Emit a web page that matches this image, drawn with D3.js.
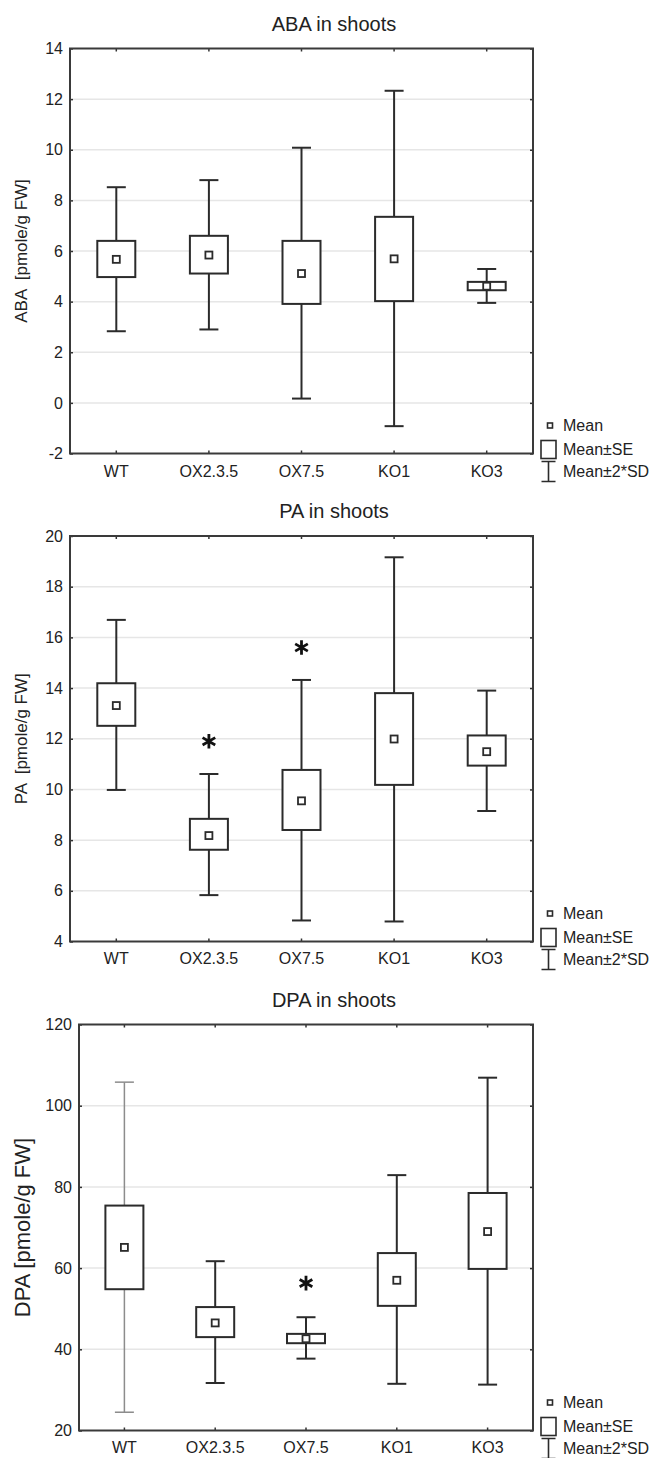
<!DOCTYPE html>
<html>
<head>
<meta charset="utf-8">
<script src="https://cdn.jsdelivr.net/npm/d3@7"></script>
<style>
  body { margin: 0; background: #fff; }
  text { font-family: "Liberation Sans", Arial, sans-serif; fill: #222; white-space: pre; }
</style>
</head>
<body>
<div id="chart"></div>
<script>
// groups on the x axis
const categories = ['WT', 'OX2.3.5', 'OX7.5', 'KO1', 'KO3'];

// ABA in shoots
const abaMean = [5.67, 5.84, 5.11, 5.69, 4.61];
const abaSeLo = [4.97, 5.11, 3.91, 4.02, 4.45];
const abaSeHi = [6.40, 6.60, 6.40, 7.35, 4.78];
const abaSdLo = [2.83, 2.90, 0.17, -0.92, 3.95];
const abaSdHi = [8.52, 8.80, 10.08, 12.33, 5.29];
const abaTicks = [-2, 0, 2, 4, 6, 8, 10, 12, 14];
const abaStars = [];

// PA in shoots
const paMean = [13.31, 8.18, 9.55, 11.99, 11.49];
const paSeLo = [12.51, 7.62, 8.40, 10.18, 10.94];
const paSeHi = [14.19, 8.84, 10.77, 13.80, 12.13];
const paSdLo = [9.98, 5.83, 4.83, 4.79, 9.15];
const paSdHi = [16.69, 10.61, 14.32, 19.16, 13.90];
const paTicks = [4, 6, 8, 10, 12, 14, 16, 18, 20];
const paStars = [{ cat: 'OX2.3.5', value: 11.9 }, { cat: 'OX7.5', value: 15.6 }];

// DPA in shoots
const dpaMean = [65.1, 46.5, 42.6, 57.0, 69.0];
const dpaSeLo = [54.8, 43.0, 41.5, 50.7, 59.8];
const dpaSeHi = [75.4, 50.4, 43.8, 63.7, 78.5];
const dpaSdLo = [24.5, 31.7, 37.7, 31.5, 31.3];
const dpaSdHi = [105.8, 61.7, 47.9, 82.9, 106.9];
const dpaTicks = [20, 40, 60, 80, 100, 120];
const dpaStars = [{ cat: 'OX7.5', value: 56.3 }];

const legendLabels = ['Mean', 'Mean\u00b1SE', 'Mean\u00b12*SD'];

const svg = d3.select('#chart')
              .append('svg')
              .attr('width', 650)
              .attr('height', 1458);

const lineColor = '#2b2b2b';

function drawPanel(p) {
   const g = svg.append('g');
   const rows = categories.map((c, i) => ({
      cat: c, mean: p.mean[i], seLo: p.seLo[i], seHi: p.seHi[i], sdLo: p.sdLo[i], sdHi: p.sdHi[i]
   }));

   const xScale = d3.scaleBand()
                    .domain(categories)
                    .range([p.left, p.right])
                    .padding(0);
   const cx = d => xScale(d) + xScale.bandwidth() / 2;

   const yScale = d3.scaleLinear()
                    .domain([p.ticks[0], p.ticks[p.ticks.length - 1]])
                    .range([p.bottom, p.top]);

   // grid
   g.selectAll('.grid')
    .data(p.ticks.slice(1, -1))
    .join('line')
    .attr('x1', p.left).attr('x2', p.right)
    .attr('y1', d => yScale(d)).attr('y2', d => yScale(d))
    .attr('stroke', '#e6e6e6').attr('stroke-width', 1.5);

   // axes
   const left = g.append('g').attr('transform', `translate(${p.left},0)`)
                 .call(d3.axisLeft(yScale).tickValues(p.ticks).tickSize(-3).tickPadding(7)
                         .tickFormat(d => String(d)));
   const right = g.append('g').attr('transform', `translate(${p.right},0)`)
                  .call(d3.axisRight(yScale).tickValues(p.ticks).tickSize(-3).tickFormat(''));
   const bottom = g.append('g').attr('transform', `translate(0,${p.bottom})`)
                   .call(d3.axisBottom(xScale).tickSize(-3).tickPadding(p.xPad));
   const top = g.append('g').attr('transform', `translate(0,${p.top})`)
                .call(d3.axisTop(xScale).tickSize(-3).tickFormat(''));
   [left, right, bottom, top].forEach(a => {
      a.select('.domain').remove();
      a.selectAll('.tick line').attr('stroke', '#333').attr('stroke-width', 1.5);
      a.selectAll('text').attr('font-size', 16).attr('fill', '#222')
       .attr('font-family', '"Liberation Sans", Arial, sans-serif');
   });

   // frame
   g.append('rect')
    .attr('x', p.left).attr('y', p.top)
    .attr('width', p.right - p.left).attr('height', p.bottom - p.top)
    .attr('fill', 'none').attr('stroke', '#3a3a3a').attr('stroke-width', 2);

   // whiskers
   const capW = 19, boxW = 38, meanW = 7;
   const wColor = (d, i) => (p.grayFirst && i === 0) ? '#8c8c8c' : lineColor;
   const wWidth = (d, i) => (p.grayFirst && i === 0) ? 1.5 : 2;
   g.selectAll('.whisker').data(rows).join('line')
    .attr('x1', d => cx(d.cat)).attr('x2', d => cx(d.cat))
    .attr('y1', d => yScale(d.sdLo)).attr('y2', d => yScale(d.sdHi))
    .attr('stroke', wColor).attr('stroke-width', wWidth);
   ['sdLo', 'sdHi'].forEach(k => {
      g.selectAll('.cap-' + k).data(rows).join('line')
       .attr('x1', d => cx(d.cat) - capW / 2).attr('x2', d => cx(d.cat) + capW / 2)
       .attr('y1', d => yScale(d[k])).attr('y2', d => yScale(d[k]))
       .attr('stroke', wColor).attr('stroke-width', wWidth);
   });

   // SE boxes
   g.selectAll('.box').data(rows).join('rect')
    .attr('x', d => cx(d.cat) - boxW / 2).attr('width', boxW)
    .attr('y', d => yScale(d.seHi)).attr('height', d => yScale(d.seLo) - yScale(d.seHi))
    .attr('fill', '#fff').attr('stroke', lineColor).attr('stroke-width', 2);

   // means
   g.selectAll('.mean').data(rows).join('rect')
    .attr('x', d => cx(d.cat) - meanW / 2).attr('width', meanW)
    .attr('y', d => yScale(d.mean) - meanW / 2).attr('height', meanW)
    .attr('fill', '#fff').attr('stroke', lineColor).attr('stroke-width', 1.8);

   // significance stars
   g.selectAll('.star').data(p.stars).join('path')
    .attr('transform', d => `translate(${cx(d.cat)},${yScale(d.value)})`)
    .attr('d', d3.symbol(d3.symbolAsterisk, 150)())
    .attr('fill', 'none').attr('stroke', '#111').attr('stroke-width', 2.8);

   // title
   g.append('text')
    .attr('x', 334).attr('y', p.top - 25)
    .attr('text-anchor', 'middle').attr('dominant-baseline', 'central')
    .attr('font-size', 20)
    .text(p.title);

   // y label
   g.append('text')
    .attr('transform', `translate(${p.yLabelX},${(p.top + p.bottom) / 2}) rotate(-90)`)
    .attr('text-anchor', 'middle').attr('dominant-baseline', 'central')
    .attr('font-size', p.yLabelSize)
    .text(p.yLabel);

   // legend
   const lx = p.right + 12, tx = p.right + 30;
   const ly = [p.bottom - 28, p.bottom - 4, p.bottom + 18];
   g.append('rect').attr('x', lx + 2.5).attr('y', ly[0] - 2.5).attr('width', 5).attr('height', 5)
    .attr('fill', '#fff').attr('stroke', lineColor).attr('stroke-width', 1.6);
   g.append('rect').attr('x', lx - 4).attr('y', ly[1] - 9).attr('width', 15).attr('height', 18)
    .attr('fill', '#fff').attr('stroke', lineColor).attr('stroke-width', 1.6);
   const ib = lx + 3.5;
   g.append('path')
    .attr('d', `M${ib - 7},${ly[2] - 10}H${ib + 7}M${ib},${ly[2] - 10}V${ly[2] + 10}M${ib - 7},${ly[2] + 10}H${ib + 7}`)
    .attr('fill', 'none').attr('stroke', lineColor).attr('stroke-width', 1.6);
   g.selectAll('.leg').data(legendLabels).join('text')
    .attr('x', tx).attr('y', (d, i) => ly[i])
    .attr('dominant-baseline', 'central')
    .attr('font-size', 16)
    .text(d => d);
}

drawPanel({
   title: 'ABA in shoots', yLabel: 'ABA  [pmole/g FW]', yLabelX: 21, yLabelSize: 17,
   left: 70, right: 533, top: 48.5, bottom: 453.5, xPad: 12,
   ticks: abaTicks, mean: abaMean, seLo: abaSeLo, seHi: abaSeHi, sdLo: abaSdLo, sdHi: abaSdHi,
   stars: abaStars
});

drawPanel({
   title: 'PA in shoots', yLabel: 'PA  [pmole/g FW]', yLabelX: 21, yLabelSize: 17,
   left: 70, right: 533, top: 536, bottom: 941.5, xPad: 11,
   ticks: paTicks, mean: paMean, seLo: paSeLo, seHi: paSeHi, sdLo: paSdLo, sdHi: paSdHi,
   stars: paStars
});

drawPanel({
   title: 'DPA in shoots', yLabel: 'DPA [pmole/g FW]', yLabelX: 22, yLabelSize: 22,
   left: 79, right: 533, top: 1024.5, bottom: 1430.5, xPad: 11, grayFirst: true,
   ticks: dpaTicks, mean: dpaMean, seLo: dpaSeLo, seHi: dpaSeHi, sdLo: dpaSdLo, sdHi: dpaSdHi,
   stars: dpaStars
});
</script>
</body>
</html>
